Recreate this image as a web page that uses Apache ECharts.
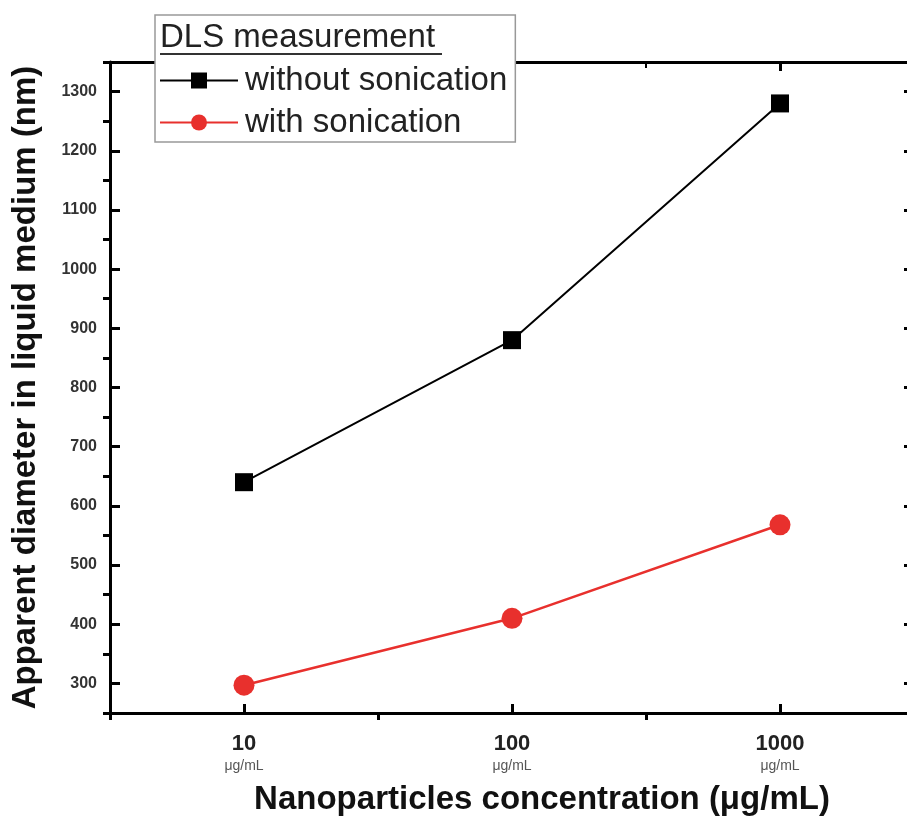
<!DOCTYPE html>
<html>
<head>
<meta charset="utf-8">
<script src="https://cdn.jsdelivr.net/npm/echarts@6/dist/echarts.min.js"></script>
<style>
  html, body { margin: 0; padding: 0; background: #fff; }
  #chart { width: 907px; height: 819px; }
</style>
</head>
<body>
<div id="chart"></div>
<script>
// concentrations (ug/mL) and measured diameters (nm)
var concentrations = [10, 100, 1000];
var withoutSonication = [640, 880, 1280];
var withSonication = [297, 410, 568];

var xMajorTicks = [10, 100, 1000];
var xMinorTicks = [3.1623, 31.623, 316.23, 3162.3];
var yMajorTicks = [300, 400, 500, 600, 700, 800, 900, 1000, 1100, 1200, 1300];
var yMinorTicks = [250, 350, 450, 550, 650, 750, 850, 950, 1050, 1150, 1250, 1350];

var FONT = 'Liberation Sans, Arial, sans-serif';

function pairs(xs, ys) {
  return xs.map(function (x, i) { return [x, ys[i]]; });
}

var chart = echarts.init(document.getElementById('chart'));

var lineStyleAxis = { color: '#000', width: 3 };

var xBase = { type: 'log', logBase: 10, min: 3.1623, max: 3162.3, gridIndex: 0, splitLine: { show: false } };
var yBase = { type: 'value', min: 250, max: 1350, gridIndex: 0, splitLine: { show: false } };

chart.setOption({
  animation: false,
  backgroundColor: '#fff',
  grid: { left: 110, width: 804, top: 62, bottom: 106, containLabel: false, outerBoundsMode: 'none' },
  xAxis: [
    Object.assign({}, xBase, {
      position: 'bottom',
      axisLine: { show: true, lineStyle: lineStyleAxis },
      axisTick: { show: true, inside: true, length: 9, lineStyle: { width: 3, color: '#000' }, customValues: xMajorTicks },
      axisLabel: {
        show: true,
        customValues: xMajorTicks,
        margin: 20,
        formatter: function (v) {
          return '{a|' + Math.round(v) + '}\n{b|μg/mL}';
        },
        rich: {
          a: { fontFamily: FONT, fontWeight: 'bold', fontSize: 22, color: '#222', lineHeight: 22 },
          b: { fontFamily: FONT, fontSize: 14, color: '#555', lineHeight: 22 }
        }
      },
      name: 'Nanoparticles concentration (μg/mL)',
      nameLocation: 'middle',
      nameGap: 70,
      nameTextStyle: { fontFamily: FONT, fontWeight: 'bold', fontSize: 33, color: '#111', padding: [0, 0, 0, 60] }
    }),
    Object.assign({}, xBase, {
      position: 'bottom',
      axisLine: { show: false },
      axisTick: { show: true, inside: false, length: 7, lineStyle: { width: 3, color: '#000' }, customValues: xMinorTicks },
      axisLabel: { show: false }
    }),
    Object.assign({}, xBase, {
      position: 'top',
      axisLine: { show: true, lineStyle: lineStyleAxis },
      axisTick: { show: true, inside: true, length: 9, lineStyle: { width: 3, color: '#000' }, customValues: xMajorTicks },
      axisLabel: { show: false }
    }),
    Object.assign({}, xBase, {
      position: 'top',
      axisLine: { show: false },
      axisTick: { show: true, inside: true, length: 6, lineStyle: { width: 2, color: '#000' }, customValues: xMinorTicks },
      axisLabel: { show: false }
    })
  ],
  yAxis: [
    Object.assign({}, yBase, {
      position: 'left',
      axisLine: { show: true, lineStyle: lineStyleAxis },
      axisTick: { show: true, inside: true, length: 10, lineStyle: { width: 3, color: '#000' }, customValues: yMajorTicks },
      axisLabel: {
        show: true,
        customValues: yMajorTicks,
        margin: 13,
        fontFamily: FONT,
        fontWeight: 'bold',
        fontSize: 16,
        color: '#333',
        formatter: function (v) { return String(v); }
      },
      name: 'Apparent diameter in liquid medium (nm)',
      nameLocation: 'middle',
      nameGap: 68,
      nameRotate: 90,
      nameTextStyle: { fontFamily: FONT, fontWeight: 'bold', fontSize: 33, color: '#111' }
    }),
    Object.assign({}, yBase, {
      position: 'left',
      axisLine: { show: false },
      axisTick: { show: true, inside: false, length: 7, lineStyle: { width: 3, color: '#000' }, customValues: yMinorTicks },
      axisLabel: { show: false }
    }),
    Object.assign({}, yBase, {
      position: 'right',
      axisLine: { show: true, lineStyle: lineStyleAxis },
      axisTick: { show: true, inside: true, length: 10, lineStyle: { width: 3, color: '#000' }, customValues: yMajorTicks },
      axisLabel: { show: false }
    }),
    Object.assign({}, yBase, {
      position: 'right',
      axisLine: { show: false },
      axisTick: { show: true, inside: true, length: 6, lineStyle: { width: 2, color: '#999' }, customValues: yMinorTicks },
      axisLabel: { show: false }
    })
  ],
  legend: {
    left: 155,
    top: 15,
    orient: 'vertical',
    backgroundColor: '#fff',
    borderColor: '#999',
    borderWidth: 1.5,
    padding: [49, 8, 3, 4],
    itemGap: 9,
    itemWidth: 78,
    itemHeight: 20,
    textStyle: { fontFamily: FONT, fontSize: 33, color: '#222', padding: [0, 0, 0, 2] },
    data: ['without sonication', 'with sonication']
  },
  graphic: [
    {
      type: 'text',
      left: 160,
      top: 21,
      z: 100,
      style: { text: 'DLS measurement', font: '33px ' + FONT, fill: '#222' }
    },
    {
      type: 'rect',
      left: 160,
      top: 53,
      z: 100,
      shape: { width: 282, height: 2 },
      style: { fill: '#333' }
    }
  ],
  series: [
    {
      name: 'without sonication',
      type: 'line',
      xAxisIndex: 0,
      yAxisIndex: 0,
      data: pairs(concentrations, withoutSonication),
      symbol: 'rect',
      symbolSize: 18,
      itemStyle: { color: '#000' },
      lineStyle: { color: '#000', width: 2 },
      z: 5
    },
    {
      name: 'with sonication',
      type: 'line',
      xAxisIndex: 0,
      yAxisIndex: 0,
      data: pairs(concentrations, withSonication),
      symbol: 'circle',
      symbolSize: 21,
      itemStyle: { color: '#e8302d' },
      lineStyle: { color: '#e8302d', width: 2.5 },
      z: 5
    }
  ]
});
</script>
</body>
</html>
